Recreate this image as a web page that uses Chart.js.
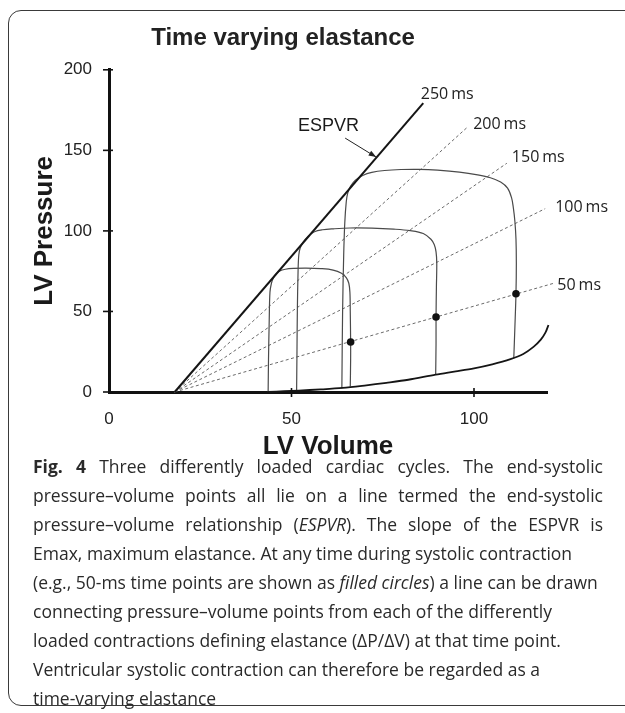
<!DOCTYPE html>
<html><head><meta charset="utf-8">
<script src="https://cdn.jsdelivr.net/npm/chart.js@4.4.1/dist/chart.umd.min.js"></script>
<style>
html,body{margin:0;padding:0;background:#fff;width:625px;height:713px;overflow:hidden;}
#frame{position:absolute;left:8px;top:10px;width:650px;height:696px;border:1.5px solid #3a3a3a;border-radius:13px;box-sizing:border-box;}
#wrap{position:absolute;left:0;top:0;width:625px;height:470px;}
#caption{position:absolute;left:33px;top:452px;width:570px;font-family:'Open Sans',sans-serif;font-size:17.5px;color:#2a2a2a;line-height:29px;}
#caption div{white-space:nowrap;}
#caption .j{text-align:justify;text-align-last:justify;white-space:normal;}
</style></head>
<body>
<div id="frame"></div>
<div id="wrap"><canvas id="c" width="625" height="470"></canvas></div>
<div id="caption">
<div class="j"><b>Fig. 4</b> Three differently loaded cardiac cycles. The end-systolic</div>
<div class="j">pressure–volume points all lie on a line termed the end-systolic</div>
<div class="j">pressure–volume relationship (<i>ESPVR</i>). The slope of the ESPVR is</div>
<div>Emax, maximum elastance. At any time during systolic contraction</div>
<div>(e.g., 50-ms time points are shown as <i>filled circles</i>) a line can be drawn</div>
<div>connecting pressure–volume points from each of the differently</div>
<div>loaded contractions defining elastance (ΔP/ΔV) at that time point.</div>
<div>Ventricular systolic contraction can therefore be regarded as a</div>
<div>time-varying elastance</div>
</div>
<script>
// ---- data ----
const volumeTicks = [0, 50, 100];
const pressureTicks = [0, 50, 100, 150, 200];

const v0 = 18;                       // common origin of isochrones (volume at P=0)
const timeLabels = ['50 ms', '100 ms', '150 ms', '200 ms', '250 ms'];
const isoEndV = [122, 119.5, 109, 98.4, 86.1];
const isoEndP = [67.6, 113.8, 142, 164.8, 179.3];

const edpvrV = [43.6, 48, 52, 58, 64, 70, 76, 82, 89.5, 95, 100, 105, 110, 113.5, 116.3, 118.3, 119.6, 120.4];
const edpvrP = [0, 0.5, 0.9, 1.6, 2.5, 4.0, 5.7, 7.6, 10.8, 12.8, 14.7, 17.2, 20.4, 23.6, 28, 32.5, 37, 41.6];

const loop1V = [66.1, 66.2, 66.2, 66.1, 66.0, 65.7, 65.0, 63.7, 61.4, 58, 54, 50.5, 48.3, 46.8, 45.7, 45.0, 44.5, 44.1, 43.9, 43.7, 43.6];
const loop1P = [3.4, 20, 31, 50, 62, 67.5, 71, 73.7, 75.7, 76.6, 76.9, 76.7, 76.2, 75.2, 73.2, 70.6, 67.5, 62, 45, 20, 0.3];

const loop2V = [89.5, 89.6, 89.6, 89.7, 89.8, 89.6, 89.1, 88.2, 86.1, 82.5, 78, 72, 66, 61.5, 58.5, 56.3, 54.5, 53.2, 52.4, 52.0, 51.8, 51.6, 51.5, 51.4];
const loop2P = [10.8, 30, 46.6, 65, 80, 87, 91.5, 94.8, 98.4, 100.2, 101.1, 101.7, 101.8, 101.3, 100.7, 99.5, 96.6, 93.0, 89.5, 85, 75, 50, 25, 1.0];

const loop3V = [110.9, 111.2, 111.5, 111.6, 111.5, 111.2, 110.8, 110.3, 109.2, 107.3, 104.5, 101, 96, 90, 85, 80, 75.5, 72, 69.5, 67.5, 66.2, 65.4, 65.0, 64.6, 64.3, 64.0, 63.8];
const loop3P = [21, 40, 61, 80, 95, 106, 114, 120.5, 126.5, 130.3, 133, 134.8, 136.5, 137.7, 138.2, 138.1, 137.5, 136.3, 134.4, 131.5, 127.8, 123.5, 118, 105, 85, 50, 2.4];

const dotV = [66.2, 89.6, 111.5];
const dotP = [31, 46.6, 61];

// ---- helpers ----
const pts = (xs, ys) => xs.map((x, i) => ({x, y: ys[i]}));
const ARIAL = "'Liberation Sans', Arial, sans-serif";

const datasets = [];
datasets.push({label:'50 ms points', data: pts(dotV, dotP), pointRadius: 3.8, pointBackgroundColor:'#111', pointBorderWidth:0, showLine:false, clip:false});
// ESPVR = 250 ms isochrone (solid)
datasets.push({label:'ESPVR', data: pts([v0, isoEndV[4]], [0, isoEndP[4]]), showLine:true, borderColor:'#151515', borderWidth:2, pointRadius:0, clip:false});
datasets.push({label:'EDPVR', data: pts(edpvrV, edpvrP), showLine:true, borderColor:'#151515', borderWidth:1.8, pointRadius:0, tension:0.3, clip:false});
[[loop1V, loop1P], [loop2V, loop2P], [loop3V, loop3P]].forEach((l, i) => {
  datasets.push({label:'loop'+(i+1), data: pts(l[0], l[1]), showLine:true, borderColor:'#4a4a4a', borderWidth:1.2, pointRadius:0, tension:0.35, clip:false});
});
for (let i = 0; i < 4; i++) {
  datasets.push({label: timeLabels[i], data: pts([v0, isoEndV[i]], [0, isoEndP[i]]), showLine:true, borderColor:'#6a6a6a', borderWidth:1, borderDash:[3,2.5], pointRadius:0, clip:false});
}

const annot = {
  id: 'annot',
  afterDraw(chart) {
    const {ctx, scales: {x, y}} = chart;
    ctx.save();
    // crossing tick marks
    ctx.strokeStyle = '#111'; ctx.lineWidth = 1.6;
    const x0 = x.getPixelForValue(0), y0 = y.getPixelForValue(0);
    pressureTicks.forEach(v => {
      const py = y.getPixelForValue(v);
      ctx.beginPath(); ctx.moveTo(x0 - 6, py); ctx.lineTo(x0 + 4, py); ctx.stroke();
    });
    volumeTicks.forEach(v => {
      if (v === 0) return;
      const px = x.getPixelForValue(v);
      ctx.beginPath(); ctx.moveTo(px, y0 - 4); ctx.lineTo(px, y0 + 5); ctx.stroke();
    });
    // time labels
    const offs = [[3, 2], [10, -1], [5, -6], [5, -2], [-2.5, -9]];
    ctx.fillStyle = '#222';
    ctx.font = "16px 'Open Sans', sans-serif";
    ctx.textAlign = 'left'; ctx.textBaseline = 'middle';
    timeLabels.forEach((t, i) => {
      const px = x.getPixelForValue(isoEndV[i]) + offs[i][0];
      const py = y.getPixelForValue(isoEndP[i]) + offs[i][1];
      const num = t.split(' ')[0];
      ctx.fillText(num, px, py);
      const w = ctx.measureText(num).width;
      ctx.fillText('ms', px + w + 3, py);
    });
    // ESPVR label + arrow
    ctx.font = '18px ' + ARIAL;
    ctx.fillStyle = '#1a1a1a';
    ctx.fillText('ESPVR', x.getPixelForValue(51.8), y.getPixelForValue(165));
    const ax1 = x.getPixelForValue(64.7), ay1 = y.getPixelForValue(157.6);
    const ax2 = x.getPixelForValue(73.2), ay2 = y.getPixelForValue(145.8);
    ctx.strokeStyle = '#222'; ctx.lineWidth = 1;
    ctx.beginPath(); ctx.moveTo(ax1, ay1); ctx.lineTo(ax2, ay2); ctx.stroke();
    const ang = Math.atan2(ay2 - ay1, ax2 - ax1);
    ctx.beginPath();
    ctx.moveTo(ax2, ay2);
    ctx.lineTo(ax2 - 8 * Math.cos(ang - 0.35), ay2 - 8 * Math.sin(ang - 0.35));
    ctx.lineTo(ax2 - 8 * Math.cos(ang + 0.35), ay2 - 8 * Math.sin(ang + 0.35));
    ctx.closePath(); ctx.fillStyle = '#222'; ctx.fill();
    ctx.restore();
  }
};

new Chart(document.getElementById('c'), {
  type: 'scatter',
  data: { datasets },
  options: {
    responsive: false,
    animation: false,
    devicePixelRatio: 1,
    layout: { padding: { left: 19, right: 78, top: 0, bottom: 0 } },
    plugins: {
      legend: { display: false },
      tooltip: { enabled: false },
      title: { display: true, text: 'Time varying elastance', color: '#222',
               font: { family: ARIAL, size: 24, weight: 'bold' }, padding: { top: 24, bottom: 17 } }
    },
    scales: {
      x: {
        type: 'linear', min: 0, max: 120,
        afterFit(s) { s.height = 78; },
        afterBuildTicks(s) { s.ticks = volumeTicks.map(v => ({value: v})); },
        grid: { display: false, drawTicks: false },
        border: { display: true, color: '#111', width: 3 },
        ticks: { padding: 17, color: '#222', font: { family: ARIAL, size: 17 } },
        title: { display: true, text: 'LV Volume', color: '#1a1a1a',
                 font: { family: ARIAL, size: 26, weight: 'bold' }, padding: { top: 0, bottom: 8 } }
      },
      y: {
        type: 'linear', min: 0, max: 200,
        afterFit(s) { s.width = 90; },
        afterBuildTicks(s) { s.ticks = pressureTicks.map(v => ({value: v})); },
        grid: { display: false, drawTicks: false },
        border: { display: true, color: '#111', width: 3 },
        ticks: { padding: 17, color: '#222', font: { family: ARIAL, size: 17 } },
        title: { display: true, text: 'LV Pressure', color: '#1a1a1a',
                 font: { family: ARIAL, size: 26, weight: 'bold' }, padding: { top: 10, bottom: 0 } }
      }
    }
  },
  plugins: [annot]
});
</script>
</body></html>
